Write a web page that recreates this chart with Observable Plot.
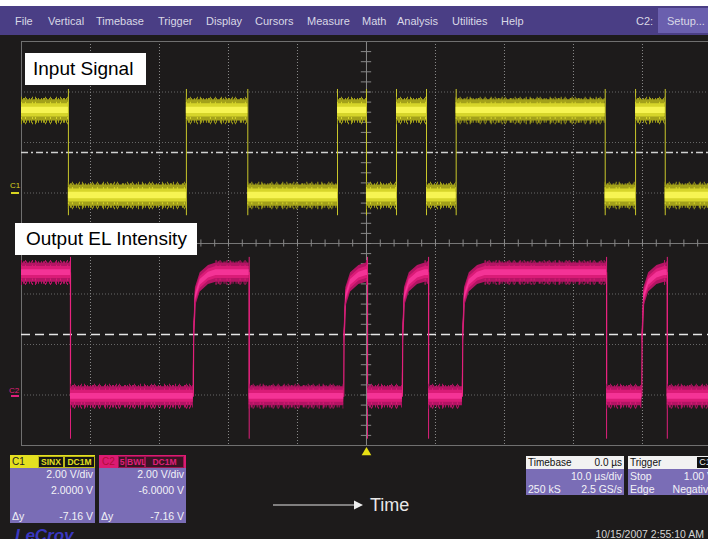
<!DOCTYPE html>
<html><head><meta charset="utf-8">
<script src="https://cdn.jsdelivr.net/npm/d3@7"></script>
<script src="https://cdn.jsdelivr.net/npm/@observablehq/plot@0.6"></script>
<style>
body{margin:0;background:#fff;}
#wrap{position:relative;width:708px;height:539px;overflow:hidden;background:#1d1b1b;font-family:"Liberation Sans",Arial,sans-serif;}
#wrap > svg{position:absolute;left:0;top:0;}
.abs{position:absolute;white-space:nowrap;}
#topw{left:0;top:0;width:708px;height:6px;background:#fff;}
#menu{left:0;top:6px;width:708px;height:29px;background:#4a3e85;color:#d9d8e6;font-size:11px;}
#menu span{position:absolute;top:9px;}
#setup{position:absolute;left:658px;top:2px;width:52px;height:25px;background:#6a5fae;}
.lbl{background:#fff;color:#000;font-size:19px;line-height:32px;height:32px;}
.pnl{background:#7a6db6;color:#f2f2f6;font-size:10.5px;}
.pnl .r{position:absolute;right:2px;}
.pnl .l{position:absolute;left:2px;}
.hdr{position:absolute;left:0;top:0;right:0;height:13px;font-size:10px;line-height:13px;}
.box{position:absolute;top:1px;height:10px;line-height:10px;font-size:8.5px;font-weight:bold;text-align:center;}
</style></head>
<body>
<div id="wrap"></div>
<script>
// ---------- data ----------
// time in µs (10 µs/div, trigger at 0), voltages in V
const traceStart = -50, traceEnd = 49.6;

// C1 : Input Signal (2.00 V/div, offset 2.0000 V)
const c1Offset = 2.0, c1VoltsPerDiv = 2.0;
const c1EdgeTimes = [-43.2, -26.1, -17.2, -4.2, 0.0, 4.35, 8.7, 13.0, 34.6, 39.0, 43.3];
const c1Levels    = [3.27, -0.1, 3.27, -0.1, 3.27, -0.1, 3.27, -0.1, 3.27, -0.1, 3.27, -0.1];
const c1EdgeSpan  = [-0.9, 4.1];
const c1TrigLevel = 1.6;

// C2 : Output EL Intensity (2.00 V/div, offset -6.0000 V)
const c2Offset = -6.0, c2VoltsPerDiv = 2.0;
const c2EdgeTimes = [-42.9, -25.1, -17.0, -3.3, 0.15, 5.2, 9.0, 13.9, 34.8, 39.9, 43.6];
const c2Levels    = [4.85, -0.05, 4.85, -0.05, 4.85, -0.05, 4.85, -0.05, 4.85, -0.05, 4.85, -0.05];
const c2RiseDt    = [0, 0.05, 0.3, 1.0, 2.2, 3.3];     // µs after a rising edge
const c2RiseFrac  = [0, 0.45, 0.8, 0.92, 0.98, 1.0];   // fraction of the step reached
const c2FallSpan  = [-1.75, 5.45];
const c2RefLevel  = 2.4;

// graticule
const timeTicks = [-40, -30, -20, -10, 10, 20, 30, 40];
const divTicks  = [-3, -2, -1, 1, 2, 3];

// ---------- build traces ----------
function buildTrace(edges, levels, riseDt, riseFrac) {
  const pts = [{t: traceStart, v: levels[0]}];
  edges.forEach((te, i) => {
    const a = levels[i], b = levels[i + 1];
    pts.push({t: te, v: a});
    if (riseDt && b > a) riseDt.forEach((dt, k) => pts.push({t: te + dt, v: a + (b - a) * riseFrac[k]}));
    else pts.push({t: te, v: b});
  });
  pts.push({t: traceEnd, v: levels[levels.length - 1]});
  return pts;
}
// flat parts of a trace (for the noisy fringe of the band)
function flatSegments(edges, levels, riseDt) {
  return levels.map((v, i) => {
    let s = i === 0 ? traceStart : edges[i - 1];
    if (riseDt && i > 0 && v > levels[i - 1]) s += riseDt[riseDt.length - 1];
    const e = i === edges.length ? traceEnd : edges[i];
    return {s, e, v};
  });
}
const c1Trace = buildTrace(c1EdgeTimes, c1Levels);
const c2Trace = buildTrace(c2EdgeTimes, c2Levels, c2RiseDt, c2RiseFrac);
const c1Flat = flatSegments(c1EdgeTimes, c1Levels);
const c2Flat = flatSegments(c2EdgeTimes, c2Levels, c2RiseDt);
const c1Div = v => (v + c1Offset) / c1VoltsPerDiv;
const c2Div = v => (v + c2Offset) / c2VoltsPerDiv;
const c2Falls = c2EdgeTimes.filter((t, i) => c2Levels[i + 1] < c2Levels[i]);

const minorT = d3.range(-50, 50, 2);
const minorD = d3.range(-4, 4.001, 0.2);

const dashA = "1,1,2,1,1,2,1,1,1,3,2,1,1,2";
const dashB = "1,3,1,6,1,2,1,9,1,4,1,5";

function band(trace, flat, div, h, colors) {
  const [outer, mid, core] = colors;
  const fr = (off, w, dash, col) => [
    Plot.ruleY(flat, {x1: "s", x2: "e", y: d => div(d.v + off), stroke: col, strokeWidth: w, strokeDasharray: dash}),
    Plot.ruleY(flat, {x1: "s", x2: "e", y: d => div(d.v - off), stroke: col, strokeWidth: w, strokeDasharray: dash})
  ];
  return [
    ...fr(h * 1.2, 2, dashB, outer),
    ...fr(h * 1.02, 3, dashA, outer),
    Plot.areaY(trace, {x: "t", y1: d => div(d.v - h), y2: d => div(d.v + h), fill: outer}),
    ...fr(h * 0.72, 2, dashB, mid),
    Plot.areaY(trace, {x: "t", y1: d => div(d.v - h * 0.62), y2: d => div(d.v + h * 0.62), fill: mid}),
    Plot.areaY(trace, {x: "t", y1: d => div(d.v - h * 0.3), y2: d => div(d.v + h * 0.3), fill: core})
  ];
}

const chart = Plot.plot({
  width: 708, height: 539,
  marginTop: 41, marginBottom: 94, marginLeft: 21, marginRight: 0,
  x: {domain: [-50, 49.57], axis: null},
  y: {domain: [-4, 4], axis: null},
  style: {background: "transparent", overflow: "visible"},
  marks: [
    Plot.ruleX(timeTicks, {stroke: "#8a8a8a", strokeDasharray: "1,2"}),
    Plot.ruleY(divTicks, {stroke: "#7a7a7a", strokeOpacity: 0.8, strokeDasharray: "1,2"}),
    Plot.ruleX([0], {stroke: "#888"}),
    Plot.ruleY([0], {stroke: "#777"}),
    Plot.ruleX(minorT, {x: d => d, y1: -0.07, y2: 0.07, stroke: "#888"}),
    Plot.ruleY(minorD, {y: d => d, x1: -0.75, x2: 0.75, stroke: "#888"}),
    Plot.frame({stroke: "#707070"}),
    Plot.ruleY([c1Div(c1TrigLevel)], {stroke: "#cfcfcf", strokeWidth: 1.5, strokeDasharray: "7,3,2,3"}),
    Plot.ruleY([c2Div(c2RefLevel)], {stroke: "#e6e6e6", strokeWidth: 1.5, strokeDasharray: "9,5"}),
    // C1 trace
    Plot.ruleX(c1EdgeTimes, {x: d => d, y1: c1Div(c1EdgeSpan[0]), y2: c1Div(c1EdgeSpan[1]), stroke: "#c9c72a"}),
    ...band(c1Trace, c1Flat, c1Div, 0.42, ["#a3a11a", "#d6d52a", "#f6f452"]),
    // C2 trace
    Plot.ruleX(c2Falls, {x: d => d, y1: c2Div(c2FallSpan[0]), y2: c2Div(c2FallSpan[1]), stroke: "#e0207c"}),
    Plot.line(c2Trace, {x: "t", y: d => c2Div(d.v), stroke: "#e8237f", strokeWidth: 1.2}),
    ...band(c2Trace, c2Flat, c2Div, 0.38, ["#b41464", "#da1b77", "#f43396"]),
    // trigger marker
    Plot.dot([0], {x: d => d, y: -4.14, symbol: "triangle", fill: "#e6df14", r: 3.6})
  ]
});

const wrap = document.getElementById("wrap");
wrap.appendChild(chart);

const html = `
<div class="abs" id="topw"></div>
<div class="abs" id="menu">
 <span style="left:15px">File</span><span style="left:48px">Vertical</span><span style="left:96px">Timebase</span>
 <span style="left:158px">Trigger</span><span style="left:206px">Display</span><span style="left:255px">Cursors</span>
 <span style="left:307px">Measure</span><span style="left:362px">Math</span><span style="left:397px">Analysis</span>
 <span style="left:452px">Utilities</span><span style="left:501px">Help</span><span style="left:636px">C2:</span>
 <div id="setup"><span style="left:9px;top:7px">Setup...</span></div>
</div>
<div class="abs lbl" style="left:25px;top:53px;width:113px;padding-left:8px">Input Signal</div>
<div class="abs lbl" style="left:15px;top:223px;width:171px;padding-left:11px">Output EL Intensity</div>
<div class="abs" style="left:10px;top:181px;font-size:8px;color:#d8d420">C1</div>
<div class="abs" style="left:11px;top:192px;width:8px;height:1.5px;background:#d8d420"></div>
<div class="abs" style="left:9px;top:386px;font-size:8px;color:#e0207c">C2</div>
<div class="abs" style="left:11px;top:395px;width:8px;height:1.5px;background:#e0207c"></div>

<div class="abs pnl" style="left:10px;top:455px;width:85px;height:68px">
 <div class="hdr" style="background:#e4e020;color:#222"><span style="position:absolute;left:2px">C1</span>
  <span class="box" style="left:28px;width:24px;background:#151515;color:#e4e020;border:1px solid #bdb81a">SINX</span>
  <span class="box" style="left:54px;width:29px;background:#151515;color:#e4e020;border:1px solid #bdb81a">DC1M</span></div>
 <span class="r" style="top:13px">2.00 V/div</span>
 <span class="r" style="top:29px">2.0000 V</span>
 <span class="l" style="top:55px">Δy</span><span class="r" style="top:55px">-7.16 V</span>
</div>
<div class="abs pnl" style="left:99px;top:455px;width:87px;height:68px">
 <div class="hdr" style="background:#dc1a72;color:#b00c3a"><span style="position:absolute;left:3px">C2</span>
  <span class="box" style="left:19px;width:6px;background:#3a1424;color:#e0207c;border:1px solid #9c1450">5</span>
  <span class="box" style="left:27px;width:17px;background:#3a1424;color:#e0207c;border:1px solid #9c1450">BWL</span>
  <span class="box" style="left:46px;width:37px;background:#3a1424;color:#e0207c;border:1px solid #9c1450">DC1M</span></div>
 <span class="r" style="top:13px">2.00 V/div</span>
 <span class="r" style="top:29px">-6.0000 V</span>
 <span class="l" style="top:55px">Δy</span><span class="r" style="top:55px">-7.16 V</span>
</div>
<div class="abs pnl" style="left:526px;top:456px;width:98px;height:39px">
 <div class="hdr" style="background:#f2f2f2;color:#111"><span style="position:absolute;left:2px">Timebase</span><span style="position:absolute;right:2px">0.0 µs</span></div>
 <span class="r" style="top:14px">10.0 µs/div</span>
 <span class="l" style="top:27px">250 kS</span><span class="r" style="top:27px">2.5 GS/s</span>
</div>
<div class="abs pnl" style="left:628px;top:456px;width:88px;height:39px">
 <div class="hdr" style="background:#f2f2f2;color:#111"><span style="position:absolute;left:2px">Trigger</span>
  <span style="position:absolute;left:69px;top:1px;width:16px;height:11px;line-height:11px;background:#111;color:#eee;font-size:9px;text-align:center">C1</span></div>
 <span class="l" style="top:14px">Stop</span><span class="r" style="top:14px">1.00 V</span>
 <span class="l" style="top:27px">Edge</span><span class="r" style="top:27px">Negative</span>
</div>
<div class="abs" style="left:15px;top:526px;font-size:17px;font-weight:bold;font-style:italic;color:#3a37c0">LeCroy</div>
<div class="abs" style="right:4px;top:528px;font-size:10.5px;color:#d4d4d4">10/15/2007 2:55:10 AM</div>
<svg class="abs" style="left:270px;top:495px" width="100" height="20">
 <line x1="3" y1="10" x2="86" y2="10" stroke="#e4e4e4" stroke-width="1.2"/>
 <polygon points="84,5.5 93,10 84,14.5" fill="#eeeeee"/>
</svg>
<div class="abs" style="left:370px;top:495px;font-size:18px;color:#e8e8e8">Time</div>
`;
wrap.insertAdjacentHTML("beforeend", html);
</script>
</body></html>
